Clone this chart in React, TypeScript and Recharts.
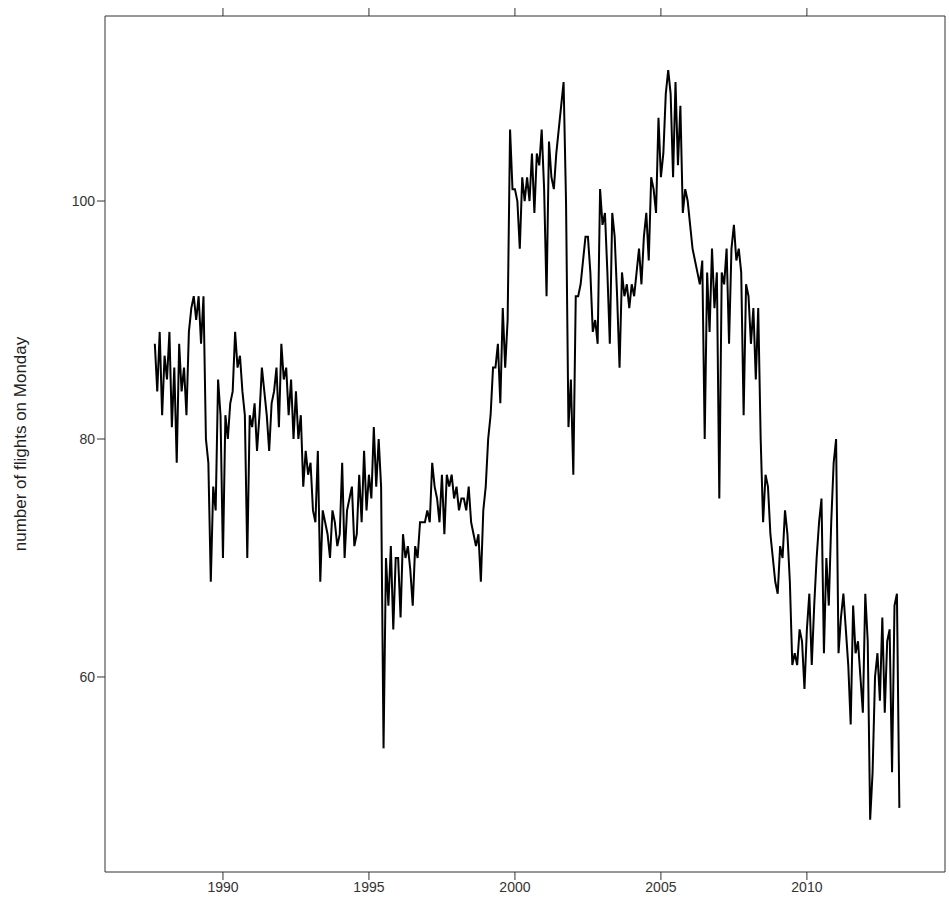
import { LineChart, Line, XAxis, YAxis } from "recharts";

const startYear = 1987 + 8 / 12;

const v1987 = [88, 84, 89, 82];
const v1988 = [87, 85, 89, 81, 86, 78, 88, 84, 86, 82, 89, 91];
const v1989 = [92, 90, 92, 88, 92, 80, 78, 68, 76, 74, 85, 82];
const v1990 = [70, 82, 80, 83, 84, 89, 86, 87, 84, 82, 70, 82];
const v1991 = [81, 83, 79, 82, 86, 84, 82, 79, 83, 84, 86, 81];
const v1992 = [88, 85, 86, 82, 85, 80, 84, 80, 82, 76, 79, 77];
const v1993 = [78, 74, 73, 79, 68, 74, 73, 72, 70, 74, 73, 71];
const v1994 = [72, 78, 70, 74, 75, 76, 71, 72, 77, 73, 79, 74];
const v1995 = [77, 75, 81, 76, 80, 76, 54, 70, 66, 71, 64, 70];
const v1996 = [70, 65, 72, 70, 71, 69, 66, 71, 70, 73, 73, 73];
const v1997 = [74, 73, 78, 76, 75, 73, 77, 72, 77, 76, 77, 75];
const v1998 = [76, 74, 75, 75, 74, 76, 73, 72, 71, 72, 68, 74];
const v1999 = [76, 80, 82, 86, 86, 88, 83, 91, 86, 90, 106, 101];
const v2000 = [101, 100, 96, 102, 100, 102, 100, 104, 99, 104, 103, 106];
const v2001 = [101, 92, 105, 102, 101, 104, 106, 108, 110, 100, 81, 85];
const v2002 = [77, 92, 92, 93, 95, 97, 97, 94, 89, 90, 88, 101];
const v2003 = [98, 99, 94, 88, 99, 97, 92, 86, 94, 92, 93, 91];
const v2004 = [93, 92, 94, 96, 93, 97, 99, 95, 102, 101, 99, 107];
const v2005 = [102, 104, 109, 111, 109, 102, 110, 103, 108, 99, 101, 100];
const v2006 = [98, 96, 95, 94, 93, 95, 80, 94, 89, 96, 91, 94];
const v2007 = [75, 94, 93, 96, 88, 96, 98, 95, 96, 94, 82, 93];
const v2008 = [92, 88, 91, 85, 91, 80, 73, 77, 76, 72, 70, 68];
const v2009 = [67, 71, 70, 74, 72, 68, 61, 62, 61, 64, 63, 59];
const v2010 = [64, 67, 61, 66, 70, 73, 75, 62, 70, 66, 73, 78];
const v2011 = [80, 62, 65, 67, 64, 61, 56, 66, 62, 63, 60, 57];
const v2012 = [67, 63, 48, 52, 60, 62, 58, 65, 57, 63, 64, 52];
const v2013 = [66, 67, 49];

const flights = [
  ...v1987, ...v1988, ...v1989, ...v1990, ...v1991, ...v1992, ...v1993,
  ...v1994, ...v1995, ...v1996, ...v1997, ...v1998, ...v1999, ...v2000,
  ...v2001, ...v2002, ...v2003, ...v2004, ...v2005, ...v2006, ...v2007,
  ...v2008, ...v2009, ...v2010, ...v2011, ...v2012, ...v2013,
];

const xTicks = [1990, 1995, 2000, 2005, 2010];
const yTicks = [60, 80, 100];

const data = flights.map((v, i) => ({ t: startYear + i / 12, v }));

const tickStyle = { fontSize: 14, fill: "#333", fontFamily: "Liberation Sans, Arial, sans-serif" };
const blank = () => "";

export default function App() {
  return (
    <div style={{ position: "absolute", left: 0, top: 0, background: "#fff" }}>
      <LineChart
        width={949}
        height={913}
        data={data}
        margin={{ top: 15, right: 3, bottom: 0, left: 0 }}
      >
        <XAxis
          xAxisId="b"
          dataKey="t"
          type="number"
          domain={[1985.96, 2014.73]}
          ticks={xTicks}
          allowDataOverflow
          height={41}
          tickSize={8}
          stroke="#333"
          tick={tickStyle}
        />
        <XAxis
          xAxisId="t"
          orientation="top"
          dataKey="t"
          type="number"
          domain={[1985.96, 2014.73]}
          ticks={xTicks}
          height={1}
          tickSize={8}
          stroke="#333"
          tickFormatter={blank}
        />
        <YAxis
          yAxisId="l"
          type="number"
          domain={[43.61, 115.55]}
          ticks={yTicks}
          allowDataOverflow
          width={105}
          tickSize={8}
          stroke="#333"
          tick={tickStyle}
          label={{
            value: "number of flights on Monday",
            angle: -90,
            position: "insideLeft",
            offset: 20,
            style: { fontSize: 17, fill: "#222", fontFamily: "Liberation Sans, Arial, sans-serif", textAnchor: "middle" },
          }}
        />
        <YAxis
          yAxisId="r"
          orientation="right"
          type="number"
          domain={[43.61, 115.55]}
          ticks={yTicks}
          width={1}
          tickSize={8}
          stroke="#333"
          tickFormatter={blank}
        />
        <Line
          xAxisId="b"
          yAxisId="l"
          dataKey="v"
          type="linear"
          stroke="#000"
          strokeWidth={2}
          dot={false}
          isAnimationActive={false}
        />
      </LineChart>
    </div>
  );
}
